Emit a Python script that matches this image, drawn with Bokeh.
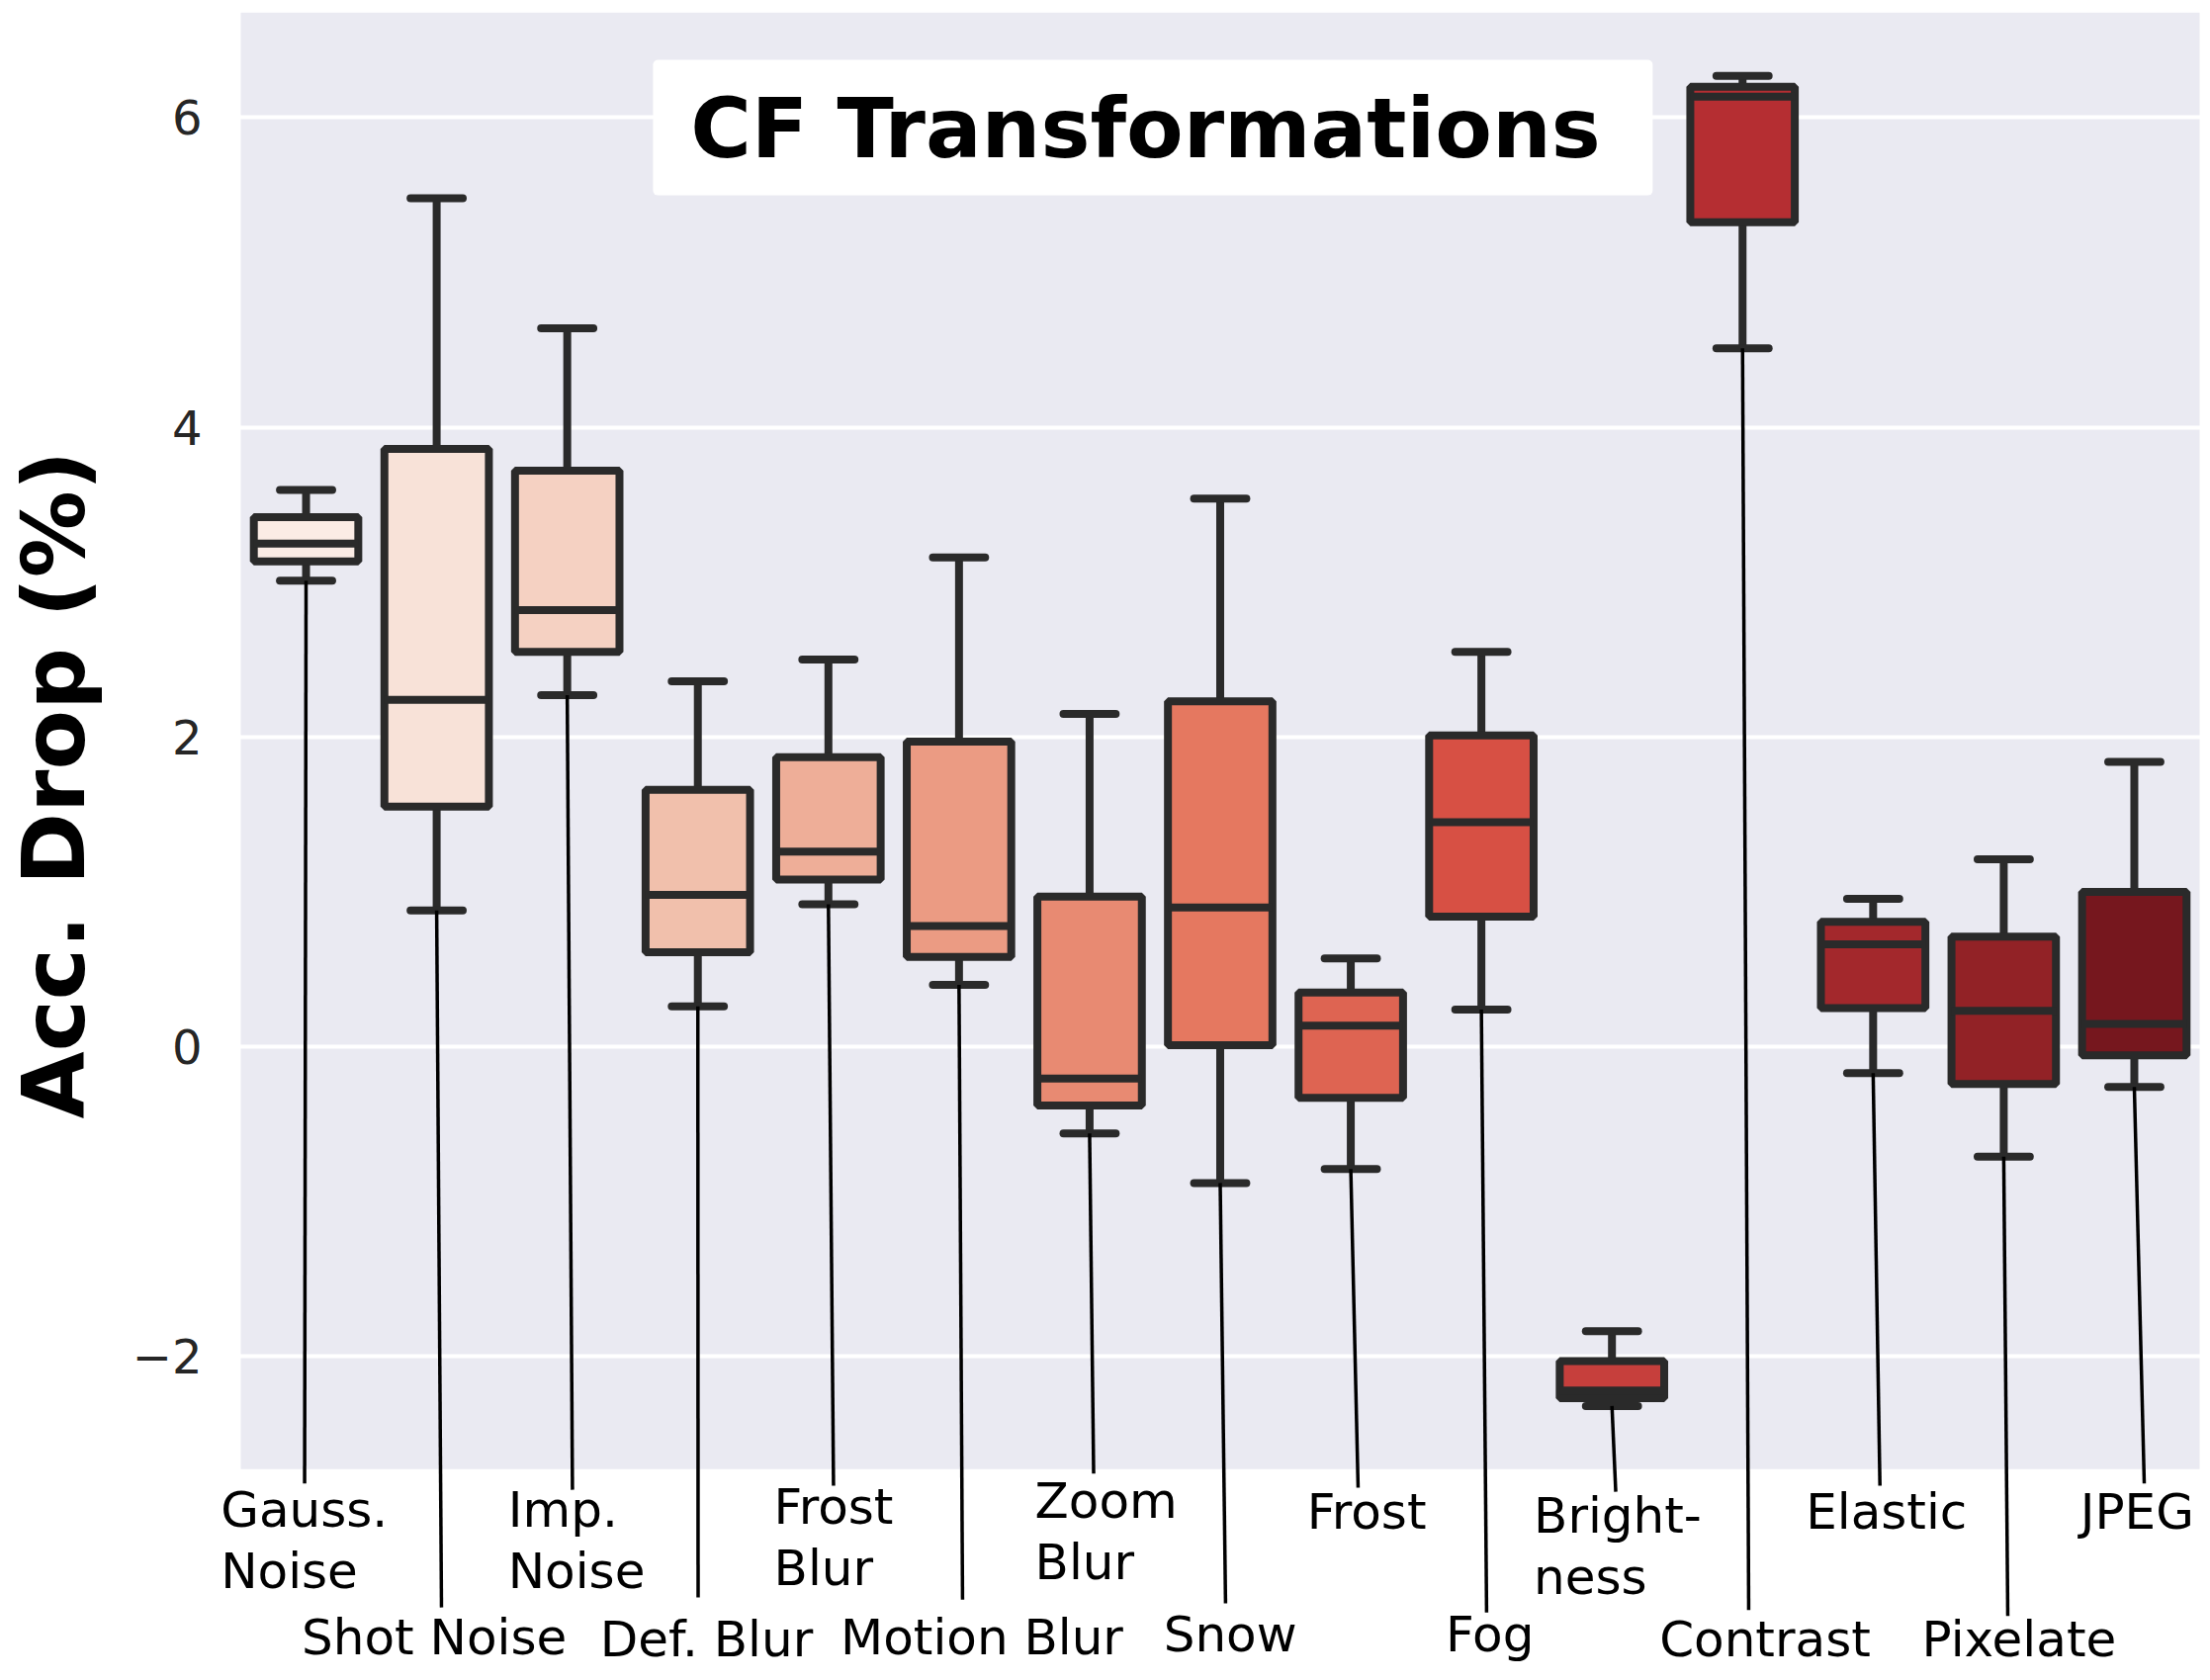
import math
import colorsys
from bokeh.plotting import figure
from bokeh.models import (Range1d, FixedTicker, ColumnDataSource, Label, BoxAnnotation)
from bokeh.core.properties import value
from bokeh.embed import file_html
from bokeh.resources import INLINE

# ---------------- data ----------------
categories = ["Gauss.\nNoise", "Shot Noise", "Imp.\nNoise", "Def. Blur", "Frost\nBlur",
              "Motion Blur", "Zoom\nBlur", "Snow", "Frost", "Fog", "Bright-\nness",
              "Contrast", "Elastic", "Pixelate", "JPEG"]
whisker_low = [3.01, 0.88, 2.27, 0.26, 0.92, 0.40, -0.56, -0.88, -0.79, 0.24, -2.32, 4.51, -0.17, -0.71, -0.26]
q1 = [3.135, 1.55, 2.55, 0.61, 1.08, 0.58, -0.38, 0.01, -0.33, 0.84, -2.27, 5.325, 0.25, -0.24, -0.055]
median = [3.25, 2.24, 2.82, 0.98, 1.26, 0.78, -0.205, 0.90, 0.136, 1.45, -2.22, 6.135, 0.662, 0.232, 0.147]
q3 = [3.42, 3.86, 3.72, 1.66, 1.87, 1.97, 0.97, 2.23, 0.35, 2.01, -2.03, 6.20, 0.807, 0.711, 1.00]
whisker_high = [3.595, 5.48, 4.64, 2.36, 2.50, 3.16, 2.15, 3.54, 0.57, 2.55, -1.837, 6.27, 0.956, 1.21, 1.84]
yticks = [-2, 0, 2, 4, 6]
title_text = "CF Transformations"
ylabel_text = "Acc. Drop (%)"

# ---------------- layout (label placement, data units) ----------------
label_x = [-0.654, -0.034, 1.546, 2.251, 3.582, 4.093, 5.581, 6.566, 7.664, 8.727, 9.401, 10.363, 11.484, 12.373, 13.585]
label_y = [-3.097, -3.927, -3.097, -3.934, -3.084, -3.927, -3.043, -3.906, -3.110, -3.906, -3.138, -3.934, -3.110, -3.934, -3.116]
label_shift = 0.109      # baseline correction of the renderer
line_step = 0.396
conn_dx = [-0.011, 0.037, 0.040, 0.002, 0.039, 0.027, 0.031, 0.041, 0.056, 0.040, 0.029, 0.047, 0.052, 0.031, 0.076]
conn_y_end = [-2.820, -3.621, -2.861, -3.557, -2.835, -3.570, -2.756, -3.595, -2.848, -3.653, -2.874, -3.637, -2.835, -3.676, -2.820]

x_axes_lo, x_axes_hi = -0.5, 14.5     # grey axes area
x_lo, x_hi = -2.3399, 14.5227         # whole canvas
y_hi = 6.68
y_axes_lo = -2.727
y_lo = -4.0416

# ---------------- colours: seaborn "Reds" palette, desaturated 0.75 ----------------
reds_anchors = ['#fff5f0', '#fee0d2', '#fcbba1', '#fc9272', '#fb6a4a', '#ef3b2c', '#cb181d', '#a50f15', '#67000d']


def hex2rgb(h):
    return [int(h[i:i + 2], 16) / 255 for i in (1, 3, 5)]


def reds(t):
    n = len(reds_anchors) - 1
    pos = t * n
    k = min(int(pos), n - 1)
    f = pos - k
    a, b = hex2rgb(reds_anchors[k]), hex2rgb(reds_anchors[k + 1])
    return [a[j] + (b[j] - a[j]) * f for j in range(3)]


def desat(rgb, prop=0.75):
    h, l, s = colorsys.rgb_to_hls(*rgb)
    return colorsys.hls_to_rgb(h, l, s * prop)


def to_hex(rgb):
    return "#%02x%02x%02x" % tuple(int(round(c * 255)) for c in rgb)


n = len(categories)
fills = [to_hex(desat(reds((i + 1) / (n + 1)))) for i in range(n)]
edge = "#2a2a2a"

xs = list(range(n))
src = ColumnDataSource(dict(
    x=xs, q1=q1, q3=q3, med=median, lo=whisker_low, hi=whisker_high, fill=fills,
    xl=[x - 0.4 for x in xs], xr=[x + 0.4 for x in xs],
    cl=[x - 0.2 for x in xs], cr=[x + 0.2 for x in xs],
))

p = figure(width=2227, height=1691, x_range=Range1d(x_lo, x_hi), y_range=Range1d(y_lo, y_hi),
           x_axis_type=None, output_backend="svg", toolbar_location=None,
           min_border_left=0, min_border_right=0, min_border_top=12, min_border_bottom=0,
           background_fill_color="white", border_fill_color="white", outline_line_color=None)

# grey axes background
p.quad(left=[x_axes_lo], right=[x_axes_hi], bottom=[y_axes_lo], top=[y_hi], fill_color="#eaeaf2",
       line_color=None, level="image")

p.ygrid.grid_line_color = "white"
p.ygrid.grid_line_width = 4
yax = p.yaxis[0]
yax.fixed_location = x_axes_lo
yax.ticker = FixedTicker(ticks=yticks)
yax.major_label_overrides = {t: ("\u2212%d" % -t if t < 0 else "%d" % t) for t in yticks}
yax.axis_line_color = None
yax.major_tick_line_color = None
yax.minor_tick_line_color = None
yax.major_tick_out = 0
yax.major_tick_in = 0
yax.major_label_standoff = 39
yax.major_label_text_font = "DejaVu Sans"
yax.major_label_text_font_size = "48px"
yax.major_label_text_color = "#262626"

lw = 8
# whiskers
p.segment(x0="x", y0="q3", x1="x", y1="hi", source=src, line_color=edge, line_width=lw)
p.segment(x0="x", y0="q1", x1="x", y1="lo", source=src, line_color=edge, line_width=lw)
# boxes
p.vbar(x="x", bottom="q1", top="q3", width=0.8, source=src, fill_color="fill",
       line_color=edge, line_width=lw)
# medians
p.segment(x0="xl", y0="med", x1="xr", y1="med", source=src, line_color=edge, line_width=lw)
# caps
p.segment(x0="cl", y0="hi", x1="cr", y1="hi", source=src, line_color=edge, line_width=lw, line_cap="round")
p.segment(x0="cl", y0="lo", x1="cr", y1="lo", source=src, line_color=edge, line_width=lw, line_cap="round")

# connectors from lower whiskers to the labels
conn = ColumnDataSource(dict(
    xs=xs, ys=whisker_low,
    xe=[x + d for x, d in zip(xs, conn_dx)], ye=conn_y_end,
))
p.segment(x0="xs", y0="ys", x1="xe", y1="ye", source=conn, line_color="black", line_width=3.5)

# category labels (one entry per text line)
lx, ly, lt = [], [], []
for i, name in enumerate(categories):
    for k, part in enumerate(name.split("\n")):
        lx.append(label_x[i])
        ly.append(label_y[i] + label_shift - k * line_step)
        lt.append(part)
lab_src = ColumnDataSource(dict(x=lx, y=ly, text=lt))
p.text(x="x", y="y", text="text", source=lab_src, text_font=value("DejaVu Sans"),
       text_font_size="50px", text_color="black", text_align="left", text_baseline="alphabetic")

# title box
p.add_layout(BoxAnnotation(left=2.657, right=10.312, top=6.373, bottom=5.498, fill_color="white",
                           fill_alpha=1.0, line_color=None, border_radius=5))
p.add_layout(Label(x=6.428, y=5.929, text=title_text, text_font="DejaVu Sans",
                   text_font_style="bold", text_font_size="84px", text_color="black",
                   text_align="center", text_baseline="alphabetic"))

# y-axis title
p.add_layout(Label(x=-1.931, y=1.692, text=ylabel_text, angle=math.pi / 2, text_font="DejaVu Sans",
                   text_font_style="bold", text_font_size="88px", text_color="black",
                   text_align="center", text_baseline="alphabetic"))

open("out.html", "w").write(file_html(p, INLINE))
